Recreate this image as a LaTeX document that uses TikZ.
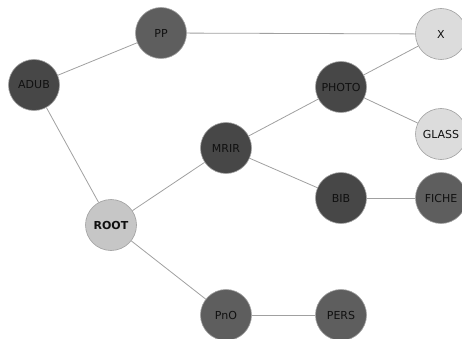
\documentclass[tikz,border=0pt]{standalone}
\usepackage{fontspec}
\setmainfont{DejaVu Sans}
\usetikzlibrary{positioning}
\definecolor{NodeDark}{HTML}{474747}
\definecolor{NodeMid}{HTML}{5E5E5E}
\definecolor{NodeLight}{HTML}{DCDCDC}
\definecolor{NodeRoot}{HTML}{C6C6C6}
\definecolor{EdgeGray}{HTML}{A0A0A0}
\definecolor{LabelInk}{HTML}{101010}

\begin{document}
\begin{tikzpicture}[x=1pt, y=-1pt,
  vert/.style={circle, minimum size=51pt, inner sep=0pt, draw=EdgeGray,
               line width=0.6pt, font=\fontsize{11}{12}\selectfont\color{LabelInk}},
  dark/.style={vert, fill=NodeDark},
  mid/.style={vert, fill=NodeMid},
  light/.style={vert, fill=NodeLight},
  rootv/.style={vert, fill=NodeRoot, font=\fontsize{11}{12}\selectfont\bfseries\color{LabelInk}},
  edge/.style={draw=EdgeGray, line width=0.8pt}]
  \useasboundingbox (0,0) rectangle (462,339);
  % vertices
  \node[dark]  (adub)  at (34,85)   {ADUB};
  \node[mid]   (pp)    at (161,33)  {PP};
  \node[light] (x)     at (441,34)  {X};
  \node[dark]  (photo) at (341,87)  {PHOTO};
  \node[light] (glass) at (441,134) {GLASS};
  \node[dark]  (mrir)  at (226,148) {MRIR};
  \node[dark]  (bib)   at (341,198) {BIB};
  \node[mid]   (fiche) at (441,198) {FICHE};
  \node[rootv] (root)  at (111,225) {ROOT};
  \node[mid]   (pno)   at (226,315) {PnO};
  \node[mid]   (pers)  at (341,315) {PERS};
  % edges
  \draw[edge] (adub) -- (pp);
  \draw[edge] (pp) -- (x);
  \draw[edge] (adub) -- (root);
  \draw[edge] (root) -- (mrir);
  \draw[edge] (mrir) -- (photo);
  \draw[edge] (photo) -- (x);
  \draw[edge] (photo) -- (glass);
  \draw[edge] (mrir) -- (bib);
  \draw[edge] (bib) -- (fiche);
  \draw[edge] (root) -- (pno);
  \draw[edge] (pno) -- (pers);
\end{tikzpicture}
\end{document}
